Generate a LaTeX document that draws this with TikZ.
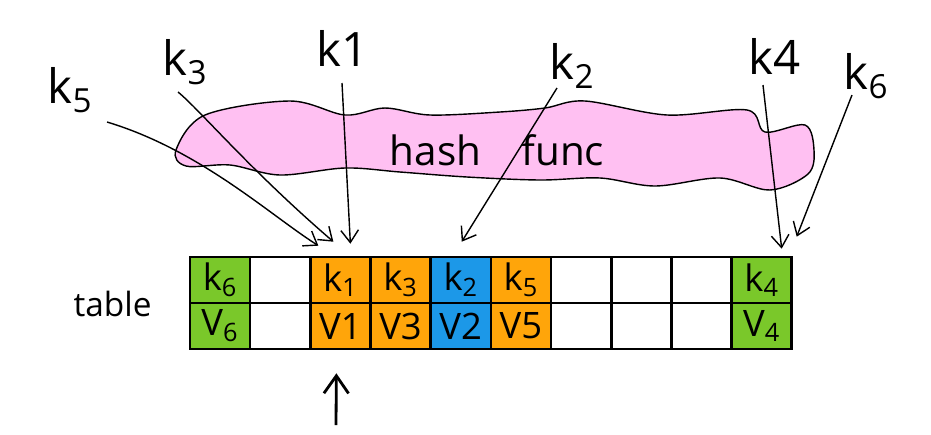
\documentclass[tikz,border=0pt]{standalone}
\usepackage{fontspec}
\setmainfont{Open Sans}
\usetikzlibrary{positioning, arrows.meta, calc}
\definecolor{keygreen}{RGB}{122,200,42}
\definecolor{keyorange}{RGB}{255,165,10}
\definecolor{keyblue}{RGB}{28,152,232}
\definecolor{hashpink}{RGB}{255,192,242}
\tikzstyle{cell}=[draw,line width=1.5pt,rectangle,minimum width=1.204cm,minimum height=0.92cm,inner sep=0pt,font=\huge]
\tikzstyle{keylabel}=[font=\fontsize{27}{30}\selectfont]
\tikzstyle{keyarrow}=[->,line width=0.8pt]

\begin{document}
\begin{tikzpicture}[x=0.02cm, y=-0.02cm, node distance=1.204cm,
    >={Straight Barb[length=7pt,width=10pt]}]
            \useasboundingbox (0,0) rectangle (931,434);
            % hash function blob
            \draw[fill=hashpink, line width=0.8pt] plot[smooth cycle, tension=0.55] coordinates {
                (176,150) (205,115) (290,101) (345,115) (385,108) (430,115)
                (500,112) (545,108) (585,101) (667,115) (747,110) (765,132)
                (805,125) (814,150) (808,174) (770,190) (720,178) (655,186)
                (600,178) (540,180) (467,177) (400,172) (345,168) (280,175)
                (230,165) (186,166)};
            \node[font=\fontsize{23}{26}\selectfont] (hash) at (497,150) {hash\quad func};
            % table, top row keys
            \node[cell, fill=keygreen] (key0) at (220,280) {k\textsubscript{6}};
            \node[cell, right of=key0] (key1) {};
            \node[cell, fill=keyorange, right of=key1] (key2) {k\textsubscript{1}};
            \node[cell, fill=keyorange, right of=key2] (key3) {k\textsubscript{3}};
            \node[cell, fill=keyblue, right of=key3] (key4) {k\textsubscript{2}};
            \node[cell, fill=keyorange, right of=key4] (key5) {k\textsubscript{5}};
            \node[cell, right of=key5] (key6) {};
            \node[cell, right of=key6] (key7) {};
            \node[cell, right of=key7] (key8) {};
            \node[cell, fill=keygreen, right of=key8] (key9) {k\textsubscript{4}};
            % bottom row values
            \node[cell, fill=keygreen, below of=key0, node distance=0.92cm] (val0) {V\textsubscript{6}};
            \node[cell, right of=val0] (val1) {};
            \node[cell, fill=keyorange, right of=val1] (val2) {V1};
            \node[cell, fill=keyorange, right of=val2] (val3) {V3};
            \node[cell, fill=keyblue, right of=val3] (val4) {V2};
            \node[cell, fill=keyorange, right of=val4] (val5) {V5};
            \node[cell, right of=val5] (val6) {};
            \node[cell, right of=val6] (val7) {};
            \node[cell, right of=val7] (val8) {};
            \node[cell, fill=keygreen, right of=val8] (val9) {V\textsubscript{4}};
            \node[font=\fontsize{19}{22}\selectfont, left of=val0, node distance=2.15cm, yshift=0.45cm] (table) {table};
            % keys on top
            \node[keylabel] (lab5) at (70,90) {k\textsubscript{5}};
            \node[keylabel] (lab3) at (185,62) {k\textsubscript{3}};
            \node[keylabel] (lab1) at (343,48) {k1};
            \node[keylabel] (lab2) at (572,66) {k\textsubscript{2}};
            \node[keylabel] (lab4) at (775,56) {k4};
            \node[keylabel] (lab6) at (866,76) {k\textsubscript{6}};
            \coordinate (t5) at (107,122);
            \coordinate (t3) at (178,92);
            \coordinate (t1) at (342,83);
            \coordinate (t2) at (557,88);
            \coordinate (t4) at (763,85);
            \coordinate (t6) at (852,95);
            \coordinate (up) at (336,425);
            \draw[keyarrow] (t5) .. controls (200,150) and (270,215) .. ($(key2.north)+(-22,-10)$);
            \draw[keyarrow] (t3) .. controls (200,110) and (250,170) .. ($(key2.north)+(-7,-14)$);
            \draw[keyarrow] (t1) -- ($(key2.north)+(10,-12)$);
            \draw[keyarrow] (t2) -- ($(key4.north)+(1,-14)$);
            \draw[keyarrow] (t4) -- ($(key9.north)+(20,-7)$);
            \draw[keyarrow] (t6) -- ($(key9.north)+(35,-19)$);
            \draw[-{Straight Barb[length=10pt,width=14pt]}, line width=1.6pt] (up) -- ($(val2.south)+(-4,23)$);
        \end{tikzpicture}
\end{document}
